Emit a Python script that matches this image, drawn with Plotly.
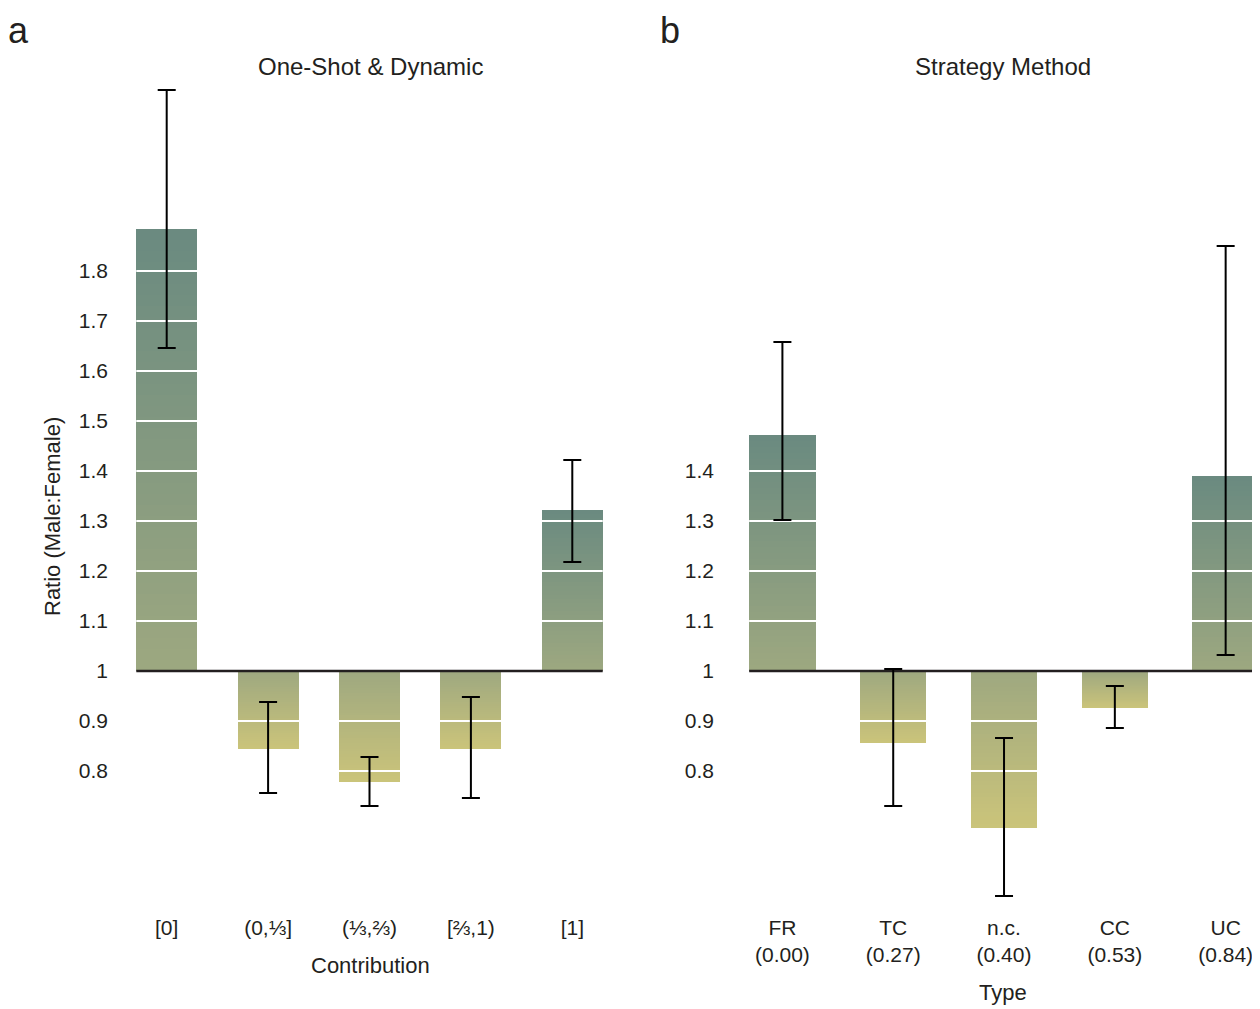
import plotly.graph_objects as go

# page body has an 8px margin: figure is placed at (8, 8) in the window
OFF = 8
W, H = 1260 - OFF, 1009 - OFF

# ---------------- data ----------------
cats_a = ["[0]", "(0,⅓]", "(⅓,⅔)", "[⅔,1)", "[1]"]
vals_a = [1.884, 0.844, 0.778, 0.844, 1.322]
hi_a = [2.162, 0.938, 0.828, 0.948, 1.422]
lo_a = [1.646, 0.756, 0.730, 0.746, 1.218]

cats_b = ["FR<br>(0.00)", "TC<br>(0.27)", "n.c.<br>(0.40)", "CC<br>(0.53)", "UC<br>(0.84)"]
vals_b = [1.472, 0.856, 0.686, 0.926, 1.390]
hi_b = [1.658, 1.004, 0.866, 0.970, 1.850]
lo_b = [1.302, 0.730, 0.550, 0.886, 1.032]

ticks_a = [0.8, 0.9, 1.0, 1.1, 1.2, 1.3, 1.4, 1.5, 1.6, 1.7, 1.8]
ticks_b = [0.8, 0.9, 1.0, 1.1, 1.2, 1.3, 1.4]
tick_text = lambda t: "1" if abs(t - 1) < 1e-9 else f"{t:.1f}"

BASE = 1.0
BAR_W = 0.6
N_SEG = 40

# colours
C_POS_BASE = (157, 168, 128)
C_POS_END = (106, 138, 128)
C_NEG_BASE = (158, 168, 128)
C_NEG_END = (203, 196, 122)
FONT = "Liberation Sans, Arial, sans-serif"
TXT = "#231f20"


def lerp(c0, c1, t):
    return "rgb(%d,%d,%d)" % tuple(round(a + (b - a) * t) for a, b in zip(c0, c1))


fig = go.Figure()


def add_panel(vals, hi, lo, ticks, xa, ya):
    xs = list(range(len(vals)))
    # gradient bars: nested overlapping bars, longest first
    for k in range(N_SEG - 1, -1, -1):
        f = (k + 1) / N_SEG
        t = (k + 0.5) / N_SEG
        ys, cols = [], []
        for v in vals:
            ys.append((v - BASE) * f)
            cols.append(lerp(C_POS_BASE, C_POS_END, t) if v >= BASE else lerp(C_NEG_BASE, C_NEG_END, t))
        fig.add_trace(go.Bar(x=xs, y=ys, base=[BASE] * len(vals), width=[BAR_W] * len(vals),
                             marker=dict(color=cols, line=dict(width=0)),
                             xaxis=xa, yaxis=ya, hoverinfo="skip", showlegend=False))
    # white gridlines over bars
    x_lo, x_hi = -BAR_W / 2, len(vals) - 1 + BAR_W / 2
    for tv in ticks:
        if abs(tv - BASE) < 1e-9:
            continue
        fig.add_trace(go.Scatter(x=[x_lo, x_hi], y=[tv, tv], mode="lines",
                                 line=dict(color="white", width=2),
                                 xaxis=xa, yaxis=ya, hoverinfo="skip", showlegend=False))
    # baseline
    fig.add_trace(go.Scatter(x=[x_lo, x_hi], y=[BASE, BASE], mode="lines",
                             line=dict(color=TXT, width=2.5),
                             xaxis=xa, yaxis=ya, hoverinfo="skip", showlegend=False))
    # error bars
    fig.add_trace(go.Scatter(x=xs, y=vals, mode="markers",
                             marker=dict(size=1, color="rgba(0,0,0,0)"),
                             error_y=dict(type="data", symmetric=False,
                                          array=[h - v for h, v in zip(hi, vals)],
                                          arrayminus=[v - l for v, l in zip(vals, lo)],
                                          color="black", thickness=2, width=9),
                             xaxis=xa, yaxis=ya, hoverinfo="skip", showlegend=False))


add_panel(vals_a, hi_a, lo_a, ticks_a, "x", "y")
add_panel(vals_b, hi_b, lo_b, ticks_b, "x2", "y2")

# pixel layout (reference window pixels, shifted by the page offset)
def px_x(p):
    return (p - OFF) / W


def px_y(p):
    return 1 - (p - OFF) / H


y_rng = [0.53, 2.17]
ydom = [px_y(906), px_y(86)]

axis_common = dict(showgrid=False, zeroline=False, showline=False, ticks="",
                   tickfont=dict(family=FONT, size=21, color=TXT), automargin=False)

fig.update_layout(
    width=W, height=H,
    margin=dict(l=0, r=0, t=0, b=0),
    paper_bgcolor="white", plot_bgcolor="white",
    barmode="overlay", bargap=0,
    showlegend=False,
    xaxis=dict(domain=[px_x(116), px_x(623)], range=[-0.5, 4.5], tickvals=list(range(5)),
               ticktext=cats_a, anchor="y", ticklabelstandoff=7, **axis_common),
    yaxis=dict(domain=ydom, range=y_rng, tickvals=ticks_a, ticklabelstandoff=7,
               ticktext=[tick_text(t) for t in ticks_a], anchor="x", **axis_common),
    xaxis2=dict(domain=[px_x(727), 1.0], range=[-0.5, 4.31], tickvals=list(range(5)),
                ticktext=cats_b, anchor="y2", ticklabelstandoff=7, **axis_common),
    yaxis2=dict(domain=ydom, range=y_rng, tickvals=ticks_b, ticklabelstandoff=12,
                ticktext=[tick_text(t) for t in ticks_b], anchor="x2", **axis_common),
)


def ann(text, xpx, ypx, size, angle=0, borderpad=1):
    fig.add_annotation(text=text, x=px_x(xpx), y=px_y(ypx), xref="paper", yref="paper",
                       xanchor="center", yanchor="middle", showarrow=False, textangle=angle,
                       borderpad=borderpad,
                       font=dict(family=FONT, size=size, color=TXT))


ann("a", 18, 30, 36, borderpad=0)
ann("b", 670, 30, 36, borderpad=0)
ann("One-Shot &amp; Dynamic", 370, 66, 24)
ann("Strategy Method", 1003, 66, 24)
ann("Contribution", 370, 965, 22)
ann("Type", 1003, 992, 22)
ann("Ratio (Male:Female)", 52, 517, 22, -90)

fig.write_html("out.html")
